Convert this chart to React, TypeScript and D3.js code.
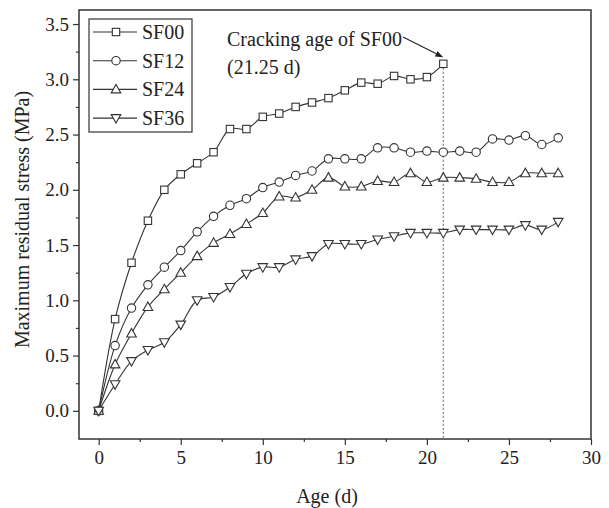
import React, { useEffect, useRef } from 'react';
import * as d3 from 'd3';

// ages in days, SF00 cracked at day 21 so its series stops there
const ages = [0, 1, 2, 3, 4, 5, 6, 7, 8, 9, 10, 11, 12, 13, 14, 15, 16, 17, 18, 19, 20, 21, 22, 23, 24, 25, 26, 27, 28];
const sf00 = [0, 0.83, 1.34, 1.72, 2.0, 2.14, 2.24, 2.34, 2.55, 2.55, 2.66, 2.69, 2.75, 2.79, 2.83, 2.9, 2.97, 2.96, 3.03, 3.0, 3.02, 3.14];
const sf12 = [0, 0.59, 0.93, 1.14, 1.3, 1.45, 1.62, 1.76, 1.86, 1.92, 2.02, 2.07, 2.13, 2.17, 2.28, 2.28, 2.28, 2.38, 2.38, 2.34, 2.35, 2.34, 2.35, 2.34, 2.46, 2.45, 2.49, 2.41, 2.47];
const sf24 = [0, 0.42, 0.7, 0.94, 1.1, 1.25, 1.4, 1.52, 1.6, 1.69, 1.79, 1.94, 1.93, 2.0, 2.11, 2.03, 2.03, 2.08, 2.07, 2.15, 2.07, 2.11, 2.11, 2.1, 2.07, 2.07, 2.15, 2.15, 2.15];
const sf36 = [0, 0.24, 0.45, 0.55, 0.62, 0.78, 1.0, 1.03, 1.12, 1.24, 1.3, 1.3, 1.37, 1.4, 1.51, 1.51, 1.51, 1.55, 1.58, 1.61, 1.61, 1.61, 1.64, 1.64, 1.64, 1.64, 1.68, 1.64, 1.71];
const seriesNames = ['SF00', 'SF12', 'SF24', 'SF36'];
const symbols = ['square', 'circle', 'up', 'down'];

const xTicks = [0, 5, 10, 15, 20, 25, 30];
const xMinor = [2.5, 7.5, 12.5, 17.5, 22.5, 27.5];
const yTicks = [0, 0.5, 1.0, 1.5, 2.0, 2.5, 3.0, 3.5];
const yMinor = [0.25, 0.75, 1.25, 1.75, 2.25, 2.75, 3.25];

const crackAge = 21;
const crackText = ['Cracking age of SF00', '(21.25 d)'];

const FONT = "'Liberation Serif', 'Times New Roman', serif";

const App = () => {
  const ref = useRef<SVGSVGElement>(null);

  useEffect(() => {
    const svg = d3.select(ref.current);
    svg.selectAll('*').remove();

    const left = 79, right = 591, top = 10, bottom = 439;
    const x = d3.scaleLinear().domain([-1.2, 30]).range([left, right]);
    const y = d3.scaleLinear().domain([-0.255, 3.627]).range([bottom, top]);

    const drawMarker = (g: any, kind: string, cx: number, cy: number) => {
      const common = (s: any) => s.attr('fill', '#fff').attr('stroke', '#333').attr('stroke-width', 1.1);
      if (kind === 'square') {
        common(g.append('rect').attr('x', cx - 3.7).attr('y', cy - 3.7).attr('width', 7.4).attr('height', 7.4));
      } else if (kind === 'circle') {
        common(g.append('circle').attr('cx', cx).attr('cy', cy).attr('r', 4.2));
      } else if (kind === 'up') {
        common(g.append('path').attr('d', `M${cx},${cy - 5} L${cx + 4.8},${cy + 3.5} L${cx - 4.8},${cy + 3.5} Z`));
      } else {
        common(g.append('path').attr('d', `M${cx},${cy + 5} L${cx + 4.8},${cy - 3.5} L${cx - 4.8},${cy - 3.5} Z`));
      }
    };

    // dotted line at the cracking age
    const crackVal = sf00[sf00.length - 1];
    svg.append('line')
      .attr('x1', x(crackAge)).attr('x2', x(crackAge))
      .attr('y1', y(crackVal) + 4).attr('y2', bottom)
      .attr('stroke', '#777').attr('stroke-width', 1.2).attr('stroke-dasharray', '2,2');

    // axes
    const yAxis = svg.append('g').attr('transform', `translate(${left},0)`)
      .call(d3.axisLeft(y).tickValues(yTicks).tickSize(6).tickPadding(4).tickFormat(d3.format('.1f')));
    svg.append('g').attr('transform', `translate(${left},0)`)
      .call(d3.axisLeft(y).tickValues(yMinor).tickSize(3).tickFormat(() => ''));
    const xAxis = svg.append('g').attr('transform', `translate(0,${bottom})`)
      .call(d3.axisBottom(x).tickValues(xTicks).tickSize(6).tickPadding(6));
    svg.append('g').attr('transform', `translate(0,${bottom})`)
      .call(d3.axisBottom(x).tickValues(xMinor).tickSize(3).tickFormat(() => ''));
    svg.selectAll('.domain').remove();
    svg.selectAll('.tick line').attr('stroke', '#333').attr('stroke-width', 1.2);
    [yAxis, xAxis].forEach((a) => a.selectAll('text')
      .style('font-family', FONT).style('font-size', '19px').attr('fill', '#222'));

    svg.append('rect')
      .attr('x', left).attr('y', top).attr('width', right - left).attr('height', bottom - top)
      .attr('fill', 'none').attr('stroke', '#333').attr('stroke-width', 1.5);

    // axis titles
    svg.append('text')
      .text('Age (d)')
      .attr('x', (left + right) / 2 - 8).attr('y', 503)
      .attr('text-anchor', 'middle')
      .style('font-family', FONT).style('font-size', '20px').attr('fill', '#222');
    svg.append('text')
      .text('Maximum residual stress (MPa)')
      .attr('transform', `translate(29, ${(top + bottom) / 2 - 5}) rotate(-90)`)
      .attr('text-anchor', 'middle')
      .style('font-family', FONT).style('font-size', '20px').attr('fill', '#222');

    // series
    const allSeries = [sf00, sf12, sf24, sf36];
    const line = d3.line<number>()
      .x((d, i) => x(ages[i]))
      .y((d) => y(d))
      .curve(d3.curveCatmullRom.alpha(0.5));

    allSeries.forEach((vals, si) => {
      svg.append('path')
        .attr('d', line(vals))
        .attr('fill', 'none').attr('stroke', '#333').attr('stroke-width', 1.1);
    });
    allSeries.forEach((vals, si) => {
      const g = svg.append('g');
      vals.forEach((v, i) => drawMarker(g, symbols[si], x(ages[i]), y(v)));
    });

    // legend
    const lg = svg.append('g');
    lg.append('rect').attr('x', 89).attr('y', 19).attr('width', 103).attr('height', 113)
      .attr('fill', '#fff').attr('stroke', '#333').attr('stroke-width', 1.2);
    seriesNames.forEach((name, i) => {
      const ry = 32 + i * 28.7;
      lg.append('line').attr('x1', 93).attr('x2', 137).attr('y1', ry).attr('y2', ry)
        .attr('stroke', '#333').attr('stroke-width', 1.1);
      drawMarker(lg, symbols[i], 116, ry);
      lg.append('text').text(name).attr('x', 142).attr('y', ry + 7)
        .style('font-family', FONT).style('font-size', '20px').attr('fill', '#222');
    });

    // annotation
    svg.append('defs').append('marker')
      .attr('id', 'arrow').attr('viewBox', '0 0 10 10').attr('refX', 9).attr('refY', 5)
      .attr('markerWidth', 7).attr('markerHeight', 7).attr('orient', 'auto')
      .append('path').attr('d', 'M0,1 L10,5 L0,9 Z').attr('fill', '#222');
    crackText.forEach((t, i) => {
      svg.append('text').text(t).attr('x', 227).attr('y', 46 + i * 28)
        .style('font-family', FONT).style('font-size', '20px').attr('fill', '#222');
    });
    svg.append('line')
      .attr('x1', 403).attr('y1', 37).attr('x2', x(crackAge) - 1).attr('y2', y(crackVal) - 7)
      .attr('stroke', '#222').attr('stroke-width', 1.1).attr('marker-end', 'url(#arrow)');
  }, []);

  return (
    <svg ref={ref} width={609} height={508}
      style={{ position: 'absolute', left: 0, top: 0, background: '#fff' }} />
  );
};

export default App;
